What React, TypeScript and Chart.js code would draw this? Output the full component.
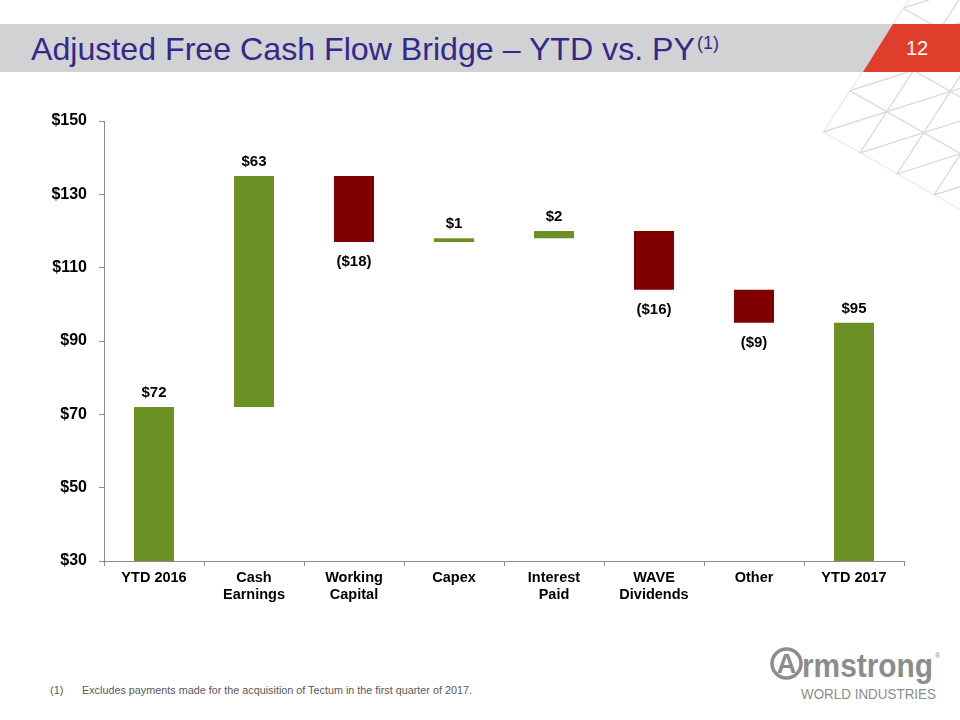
import React, { useEffect, useRef } from "react";
import { Chart, registerables } from "chart.js";

Chart.register(...registerables);

// ---------- data ----------
const categories: string[][] = [
  ["YTD 2016"],
  ["Cash", "Earnings"],
  ["Working", "Capital"],
  ["Capex"],
  ["Interest", "Paid"],
  ["WAVE", "Dividends"],
  ["Other"],
  ["YTD 2017"],
];
const openingTotal = 72;
const changes = [63, -18, 1, 2, -16, -9];
const closingTotal = 95;
const yTickMin = 30;
const yTickMax = 150;
const yTickStep = 20;

// ---------- styles ----------
const FONT = "'Liberation Sans', Arial, Helvetica, sans-serif";
const GREEN = "#6b9023";
const RED = "#800000";
const AXIS = "#8c8c8c";

const fmt = (v: number) => (v < 0 ? `($${-v})` : `$${v}`);

function buildWaterfall() {
  const ranges: number[][] = [];
  const labels: string[] = [];
  const colors: string[] = [];
  const up: boolean[] = [];
  ranges.push([yTickMin, openingTotal]);
  labels.push(fmt(openingTotal));
  colors.push(GREEN);
  up.push(true);
  let run = openingTotal;
  for (const c of changes) {
    const next = run + c;
    ranges.push([Math.min(run, next), Math.max(run, next)]);
    labels.push(fmt(c));
    colors.push(c >= 0 ? GREEN : RED);
    up.push(c >= 0);
    run = next;
  }
  ranges.push([yTickMin, closingTotal]);
  labels.push(fmt(closingTotal));
  colors.push(GREEN);
  up.push(true);
  return { ranges, labels, colors, up };
}

// lattice decoration (top-right)
const P0 = [823, 132];
const V1 = [63.7, -20.3];
const V2 = [37, 21];
const V3 = [V1[0] - V2[0], V1[1] - V2[1]];

function latticeLines() {
  const out: number[][] = [];
  const add = (p: number[], d: number[]) => {
    out.push([p[0] - 12 * d[0], p[1] - 12 * d[1], p[0] + 12 * d[0], p[1] + 12 * d[1]]);
  };
  for (let i = 0; i <= 6; i++) add([P0[0] + i * V1[0], P0[1] + i * V1[1]], V2);
  for (let j = -10; j <= 10; j++) add([P0[0] + j * V2[0], P0[1] + j * V2[1]], V1);
  for (let s = 0; s <= 10; s++) add([P0[0] + s * V2[0], P0[1] + s * V2[1]], V3);
  return out;
}

export default function App() {
  const ref = useRef<HTMLCanvasElement>(null);

  useEffect(() => {
    if (!ref.current) return;
    const { ranges, labels, colors, up } = buildWaterfall();

    const labelPlugin = {
      id: "waterfallLabels",
      afterDatasetsDraw(chart: any) {
        const { ctx } = chart;
        const meta = chart.getDatasetMeta(0);
        const y = chart.scales.y;
        ctx.save();
        ctx.font = `bold 15px ${FONT}`;
        ctx.fillStyle = "#000";
        ctx.textAlign = "center";
        ctx.textBaseline = "middle";
        meta.data.forEach((bar: any, i: number) => {
          const [lo, hi] = ranges[i];
          if (up[i]) ctx.fillText(labels[i], bar.x, y.getPixelForValue(hi) - 14);
          else ctx.fillText(labels[i], bar.x, y.getPixelForValue(lo) + 20);
        });
        ctx.restore();
      },
    };

    const chart = new Chart(ref.current, {
      type: "bar",
      data: {
        labels: categories,
        datasets: [
          {
            data: ranges as any,
            backgroundColor: colors,
            borderWidth: 0,
            barPercentage: 0.4,
            categoryPercentage: 1,
          },
        ],
      },
      options: {
        responsive: false,
        animation: false,
        layout: { padding: { left: 0, top: 121, right: 56, bottom: 0 } },
        plugins: { legend: { display: false }, tooltip: { enabled: false } },
        scales: {
          x: {
            grid: {
              display: true,
              drawOnChartArea: false,
              tickLength: 5,
              color: AXIS,
              offset: true,
            },
            border: { color: AXIS, width: 1 },
            ticks: {
              color: "#000",
              font: { family: FONT, size: 14.5, weight: "bold" },
              padding: 3,
              maxRotation: 0,
              autoSkip: false,
            },
            afterFit: (s: any) => {
              s.height = 159;
            },
          },
          y: {
            min: yTickMin,
            max: yTickMax,
            ticks: {
              stepSize: yTickStep,
              callback: (v: any) => "$" + v,
              color: "#000",
              font: { family: FONT, size: 16, weight: "bold" },
              padding: 12,
            },
            grid: { drawOnChartArea: false, tickLength: 5, color: AXIS },
            border: { color: AXIS, width: 1 },
            afterFit: (s: any) => {
              s.width = 104;
            },
          },
        },
      },
      plugins: [labelPlugin],
    });
    return () => chart.destroy();
  }, []);

  const lines = latticeLines();

  return (
    <div
      style={{
        position: "absolute",
        left: 0,
        top: 0,
        width: 960,
        height: 720,
        overflow: "hidden",
        background: "#fff",
      }}
    >
      <svg
        width={960}
        height={720}
        style={{ position: "absolute", left: 0, top: 0 }}
        fontFamily={FONT}
      >
        <defs>
          <clipPath id="wedge">
            <polygon
              points={`${P0[0]},${P0[1]} ${P0[0] + 6 * V3[0]},${P0[1] + 6 * V3[1]} 1300,-120 1300,420 ${P0[0] + 12 * V2[0]},${P0[1] + 12 * V2[1]}`}
            />
          </clipPath>
        </defs>
        <g clipPath="url(#wedge)" stroke="#d9d9d9" strokeWidth={1.3}>
          {lines.map((l, k) => (
            <line key={k} x1={l[0]} y1={l[1]} x2={l[2]} y2={l[3]} />
          ))}
        </g>
        <rect x={0} y={24} width={900} height={48} fill="#d1d2d4" />
        <polygon points="893,24 960,24 960,72 863,72" fill="#e03e2d" />
        <text x={31} y={60} fontSize={32} fill="#35288a">
          <tspan textLength={664} lengthAdjust="spacingAndGlyphs">
            Adjusted Free Cash Flow Bridge – YTD vs. PY
          </tspan>
        </text>
        <text x={697} y={49} fontSize={18} fill="#35288a">
          (1)
        </text>
        <text x={917} y={55} fontSize={20} fill="#fff" textAnchor="middle">
          12
        </text>

        <text x={50} y={694} fontSize={11} fill="#595959">
          (1)
        </text>
        <text x={82} y={694} fontSize={11} fill="#595959" textLength={390} lengthAdjust="spacingAndGlyphs">
          Excludes payments made for the acquisition of Tectum in the first quarter of 2017.
        </text>

        {/* logo */}
        <circle cx={786.5} cy={663.5} r={14.5} fill="none" stroke="#8c8c8c" strokeWidth={3.5} />
        <text x={786.5} y={673} fontSize={27} fontWeight="bold" fill="#8c8c8c" textAnchor="middle">
          A
        </text>
        <text x={802} y={677} fontSize={34} fontWeight="bold" fill="#8c8c8c" textLength={131} lengthAdjust="spacingAndGlyphs">
          rmstrong
        </text>
        <text x={935} y={658} fontSize={7} fill="#8c8c8c">
          ®
        </text>
        <text x={801} y={699} fontSize={15} fill="#8c8c8c" textLength={135} lengthAdjust="spacingAndGlyphs">
          WORLD INDUSTRIES
        </text>
      </svg>
      <canvas
        ref={ref}
        width={960}
        height={720}
        style={{ position: "absolute", left: 0, top: 0 }}
      />
    </div>
  );
}
